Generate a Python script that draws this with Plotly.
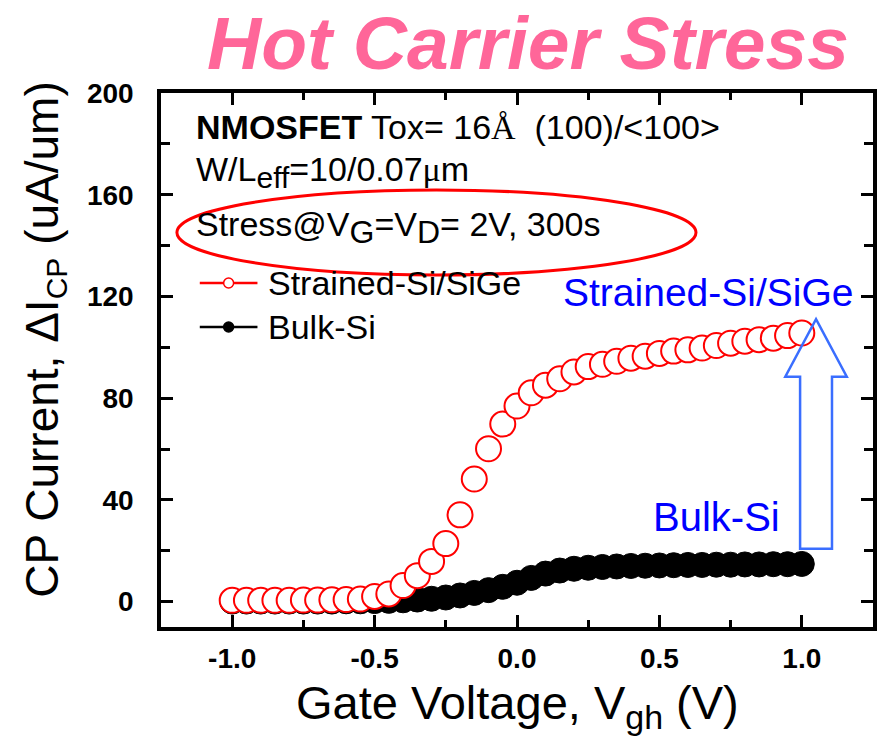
import plotly.graph_objects as go

# Gate voltage sweep (V)
vgh = [round(-1.0 + 0.05 * i, 2) for i in range(41)]

# Charge-pumping current increase after stress (uA/um)
strained_si_sige = [
    0.5, 0.5, 0.5, 0.5, 0.5, 0.6, 0.6, 0.7, 0.8, 1.0,
    2.0, 3.0, 6.3, 10.2, 15.8, 22.8, 34.1, 48.2, 60.1, 69.8,
    76.9, 82.1, 85.1, 87.6, 90.3, 92.4, 93.3, 94.5, 95.7, 96.5,
    97.6, 98.5, 99.0, 99.7, 100.7, 101.6, 102.4, 103.0, 103.6, 104.6,
    105.6,
]
bulk_si = [
    0.0, 0.0, 0.0, 0.0, 0.0, 0.0, 0.0, 0.0, 0.1, 0.1,
    0.2, 0.3, 0.5, 0.8, 1.1, 1.6, 2.4, 3.4, 4.5, 5.8,
    7.4, 9.3, 11.0, 12.2, 12.9, 13.3, 13.6, 13.8, 14.0, 14.1,
    14.2, 14.3, 14.4, 14.4, 14.5, 14.5, 14.6, 14.6, 14.7, 14.7,
    14.8,
]

x_ticks = [-1.0, -0.5, 0.0, 0.5, 1.0]
x_tick_labels = ["-1.0", "-0.5", "0.0", "0.5", "1.0"]
y_ticks = [0, 40, 80, 120, 160, 200]
y_tick_labels = ["0", "40", "80", "120", "160", "200"]

FONT = "Arial, Liberation Sans, sans-serif"
SERIF = "Times New Roman, Liberation Serif, serif"
RED = "#FF0000"
BLUE = "#0000FF"
ARROW_BLUE = "#3A6EFF"

W_FIG, H_FIG = 880, 745
M_L, M_R, M_T, M_B = 161, 3, 93, 118
PW = W_FIG - M_L - M_R
PH = H_FIG - M_T - M_B


def px(x):
    """pixel column -> paper x"""
    return (x - M_L) / PW


def py(y):
    """pixel row -> paper y"""
    return (H_FIG - M_B - y) / PH


def sub(text, size):
    """subscript kept close to the body size"""
    return f"<sub><span style='font-size:{size}px'>{text}</span></sub>"


fig = go.Figure()

fig.add_trace(go.Scatter(
    x=vgh, y=bulk_si, mode="markers", name="Bulk-Si",
    marker=dict(size=25, color="black", line=dict(color="black", width=1)),
    showlegend=False,
))
fig.add_trace(go.Scatter(
    x=vgh, y=strained_si_sige, mode="markers", name="Strained-Si/SiGe",
    marker=dict(size=25, color="white", line=dict(color=RED, width=2)),
    showlegend=False,
))

axis_common = dict(
    showline=True, linecolor="black", linewidth=3.5, mirror="ticks",
    ticks="inside", tickcolor="black", tickwidth=3, ticklen=12,
    showgrid=False, zeroline=False,
    tickfont=dict(family=FONT, size=28, color="black", weight="bold"),
)

fig.update_xaxes(
    range=[-1.25, 1.25], tickmode="array", tickvals=x_ticks, ticktext=x_tick_labels,
    minor=dict(ticks="inside", dtick=0.25, ticklen=7, tickwidth=3, tickcolor="black"),
    ticklabelstandoff=4,
    **axis_common,
)
fig.update_yaxes(
    range=[-10, 200], tickmode="array", tickvals=y_ticks, ticktext=y_tick_labels,
    minor=dict(ticks="inside", dtick=20, ticklen=9, tickwidth=3, tickcolor="black"),
    ticklabelstandoff=18,
    **axis_common,
)

# Hollow block arrow from the bulk level up to the strained level at the last bias point
x_end = vgh[-1]
ax_c = x_end + 0.05
shaft_hw, head_hw = 0.056, 0.108
y_bot = bulk_si[-1] + 6
y_tip = strained_si_sige[-1] + 5.5
y_head = y_tip - 22.7
arrow_path = (
    f"M {ax_c - shaft_hw} {y_bot} L {ax_c - shaft_hw} {y_head} L {ax_c - head_hw} {y_head} "
    f"L {ax_c} {y_tip} L {ax_c + head_hw} {y_head} L {ax_c + shaft_hw} {y_head} "
    f"L {ax_c + shaft_hw} {y_bot} Z"
)
shapes = [
    dict(type="path", xref="x", yref="y", path=arrow_path,
         line=dict(color=ARROW_BLUE, width=2.5), fillcolor="rgba(0,0,0,0)"),
    # highlight ring around the stress condition
    dict(type="circle", xref="paper", yref="paper",
         x0=px(177), x1=px(699), y0=py(275), y1=py(190),
         line=dict(color=RED, width=3)),
    # legend samples
    dict(type="line", xref="paper", yref="paper", x0=px(200), x1=px(258),
         y0=py(283), y1=py(283), line=dict(color=RED, width=2.5)),
    dict(type="circle", xref="paper", yref="paper", x0=px(224), x1=px(234),
         y0=py(288), y1=py(278), line=dict(color=RED, width=1.5), fillcolor="white"),
    dict(type="line", xref="paper", yref="paper", x0=px(200), x1=px(258),
         y0=py(327), y1=py(327), line=dict(color="black", width=2.5)),
    dict(type="circle", xref="paper", yref="paper", x0=px(224), x1=px(234),
         y0=py(332), y1=py(322), line=dict(color="black", width=1.5), fillcolor="black"),
]


def label(text, x, y, size, color="black", xanchor="left", **kw):
    return dict(text=text, xref="paper", yref="paper", x=px(x), y=py(y),
                xanchor=xanchor, yanchor="middle", showarrow=False,
                font=dict(family=FONT, size=size, color=color), **kw)


annotations = [
    label("<b><i>Hot Carrier Stress</i></b>", 530, 43, 75, color="#FF6699", xanchor="center"),
    label(f"<b>NMOSFET</b> Tox= 16<span style='font-family:{SERIF}'>Å</span>  (100)/&lt;100&gt;",
          194, 127, 34),
    label(f"W/L{sub('eff', 30)}=10/0.07<span style='font-family:{SERIF}'>μ</span>m", 194, 172, 34),
    label(f"Stress@V{sub('G', 32)}=V{sub('D', 32)}= 2V, 300s", 194, 228, 34),
    label("Strained-Si/SiGe", 267, 283, 34),
    label("Bulk-Si", 267, 327, 34),
    label("Strained-Si/SiGe", 563, 292, 39, color=BLUE),
    label("Bulk-Si", 654, 517, 40, color=BLUE),
    label(f"Gate Voltage, V{sub('gh', 34)} (V)", 519, 706, 47, xanchor="center"),
    label(f"CP Current, ΔI{sub('CP', 30)} (uA/um)", 44, 340, 46, xanchor="center", textangle=-90),
]

fig.update_layout(
    width=W_FIG, height=H_FIG,
    margin=dict(l=M_L, r=M_R, t=M_T, b=M_B),
    paper_bgcolor="white", plot_bgcolor="white",
    font=dict(family=FONT, color="black"),
    shapes=shapes, annotations=annotations,
    showlegend=False,
)

fig.write_html("out.html")
